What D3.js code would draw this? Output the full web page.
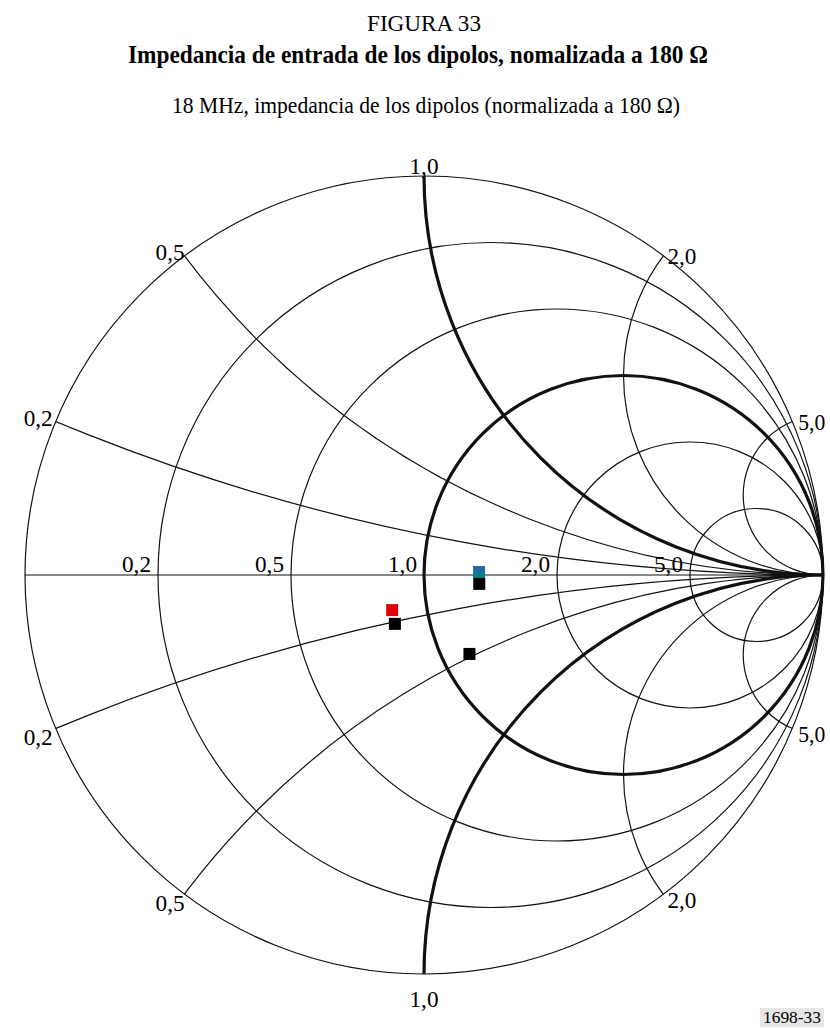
<!DOCTYPE html>
<html><head><meta charset="utf-8">
<script src="https://cdn.jsdelivr.net/npm/d3@7"></script>
<style>body{margin:0;background:#fff}svg{display:block}</style>
</head><body>
<script>
// ---- data ----
const figureLabel = "FIGURA 33";
const titleText = "Impedancia de entrada de los dipolos, nomalizada a 180 Ω";
const subtitleText = "18 MHz, impedancia de los dipolos (normalizada a 180 Ω)";
const resistanceValues = [0.2, 0.5, 1, 2, 5];
const reactanceValues = [0.2, 0.5, 1, 2, 5];
const boldValues = [1];
const axisLabels = ["0,2", "0,5", "1,0", "2,0", "5,0"];
// measured points (normalized impedance z = r + jx)
const pointR = [1.32, 1.32, 0.84, 0.84, 1.15];
const pointX = [0.02, -0.06, -0.15, -0.21, -0.48];
const pointColor = ["teal", "black", "red", "black", "black"];
const figNumber = "1698-33";

// ---- layout ----
const W = 830, H = 1028, cx = 424, cy = 575, R = 399;
const svg = d3.select("body").append("svg").attr("width", W).attr("height", H);
const xs = d3.scaleLinear().domain([-1, 1]).range([cx - R, cx + R]);
const ys = d3.scaleLinear().domain([-1, 1]).range([cy + R, cy - R]);
const len = v => xs(v) - xs(0);
const serif = "'Liberation Serif','Times New Roman',serif";

const defs = svg.append("defs");
defs.append("clipPath").attr("id", "uc").append("circle")
  .attr("cx", xs(0)).attr("cy", ys(0)).attr("r", len(1));
const grad = defs.append("linearGradient").attr("id", "tealg").attr("x1", 0).attr("y1", 0).attr("x2", 0).attr("y2", 1);
grad.append("stop").attr("offset", 0).attr("stop-color", "#2a5fb0");
grad.append("stop").attr("offset", 1).attr("stop-color", "#00877e");

// titles
svg.append("text").attr("x", 367).attr("y", 31)
  .attr("font-family", serif).attr("font-size", 24)
  .attr("textLength", 114).attr("lengthAdjust", "spacingAndGlyphs").text(figureLabel);
svg.append("text").attr("x", 128).attr("y", 63)
  .attr("font-family", serif).attr("font-size", 25).attr("font-weight", "bold")
  .attr("textLength", 580).attr("lengthAdjust", "spacingAndGlyphs").text(titleText);
svg.append("text").attr("x", 172).attr("y", 113)
  .attr("font-family", serif).attr("font-size", 24)
  .attr("textLength", 508).attr("lengthAdjust", "spacingAndGlyphs").text(subtitleText);

const thin = 1.2, bold = 3.2, ink = "#111";
const grid = svg.append("g").attr("fill", "none").attr("stroke", ink);
const isBold = v => boldValues.includes(v);

// outer circle
grid.append("circle").attr("cx", xs(0)).attr("cy", ys(0)).attr("r", len(1)).attr("stroke-width", thin);
// horizontal axis
grid.append("line").attr("x1", xs(-1)).attr("x2", xs(1)).attr("y1", ys(0)).attr("y2", ys(0)).attr("stroke-width", thin);

// reactance arcs (clipped)
const rg = grid.append("g").attr("clip-path", "url(#uc)");
reactanceValues.forEach(x => {
  [1, -1].forEach(s => {
    rg.append("circle").attr("cx", xs(1)).attr("cy", ys(s / x)).attr("r", len(1 / x))
      .attr("stroke-width", isBold(x) ? bold : thin);
  });
});
// resistance circles
resistanceValues.forEach(r => {
  grid.append("circle").attr("cx", xs(r / (1 + r))).attr("cy", ys(0)).attr("r", len(1 / (1 + r)))
    .attr("stroke-width", isBold(r) ? bold : thin);
});

// labels
const lab = svg.append("g").attr("font-family", serif).attr("font-size", 24).attr("fill", "#000");
resistanceValues.forEach((r, i) => {
  lab.append("text").attr("x", xs((r - 1) / (r + 1)) - 7).attr("y", ys(0) - 3)
    .attr("text-anchor", "end").attr("textLength", 29).attr("lengthAdjust", "spacingAndGlyphs")
    .text(axisLabels[i]);
});
// reactance labels at rim
reactanceValues.forEach((x, i) => {
  [1, -1].forEach(s => {
    const xx = s * x;
    const d = 1 + xx * xx;
    const gr = (xx * xx - 1) / d, gi = 2 * xx / d;
    const px = xs(gr), py = ys(gi);
    let t = lab.append("text").attr("textLength", x > 3 ? 27 : 29).attr("lengthAdjust", "spacingAndGlyphs").text(axisLabels[i]);
    if (Math.abs(gr) < 0.05) {
      t.attr("text-anchor", "middle").attr("x", px).attr("y", s > 0 ? py - 2 : py + 33);
    } else if (gr < 0) {
      t.attr("text-anchor", "end").attr("x", px - (x < 0.3 ? 3 : 0)).attr("y", s > 0 ? py + 4 : py + 17);
    } else {
      t.attr("text-anchor", "start").attr("x", px + (x > 3 ? 6 : 4)).attr("y", s > 0 ? py + 8 : py + 14);
    }
  });
});

// points
const toGamma = (r, x) => {
  const d = (r + 1) * (r + 1) + x * x;
  return [(r * r + x * x - 1) / d, 2 * x / d];
};
const colorMap = {teal: "url(#tealg)", black: "#000", red: "#e30000"};
pointR.forEach((r, i) => {
  const [gr, gi] = toGamma(r, pointX[i]);
  svg.append("rect").attr("x", xs(gr) - 6).attr("y", ys(gi) - 6).attr("width", 12).attr("height", 12)
    .attr("fill", colorMap[pointColor[i]]);
});

// figure number
const fg = svg.append("g");
fg.append("rect").attr("x", 760).attr("y", 1008).attr("width", 64).attr("height", 19).attr("fill", "#e6e6e6");
fg.append("text").attr("x", 763).attr("y", 1023)
  .attr("font-family", serif).attr("font-size", 16)
  .attr("textLength", 58).attr("lengthAdjust", "spacingAndGlyphs").text(figNumber);
</script>
</body></html>
